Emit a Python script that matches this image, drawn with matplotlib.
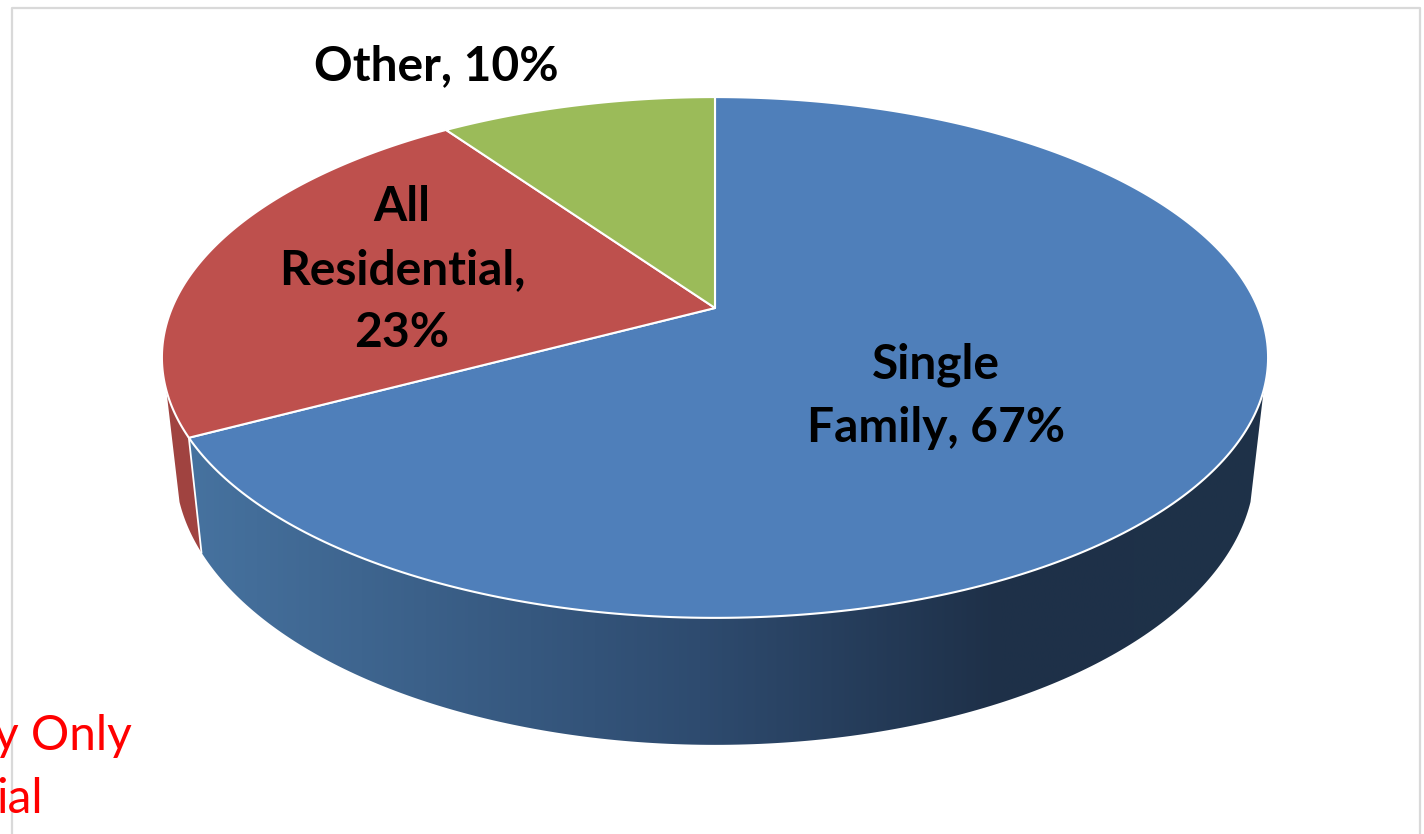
"""Single Family / All Residential / Other shares as a tilted 3D-looking pie."""
import numpy as np
import matplotlib
matplotlib.use("Agg")
import matplotlib.pyplot as plt
from matplotlib.colors import LinearSegmentedColormap
from matplotlib.patches import Polygon

categories = ["Single\nFamily", "All\nResidential", "Other"]
shares = [67.2, 23.1, 9.7]   # labels show them rounded
colors = ["#4f7fba", "#be504d", "#9bbb59"]

W, H = 1424, 834
K = 0.19                     # perspective strength
TOP = (543, 251, 308)        # x radius, y radius, y of the pie centre
BOTTOM = (530, 268, 414)
CX = 715
VISIBLE = (108, 252)         # part of the rim seen from the front, degrees clockwise from 12


def rim(theta, disc):
    a, b, y0 = disc
    t = np.radians(theta)
    u, v = np.sin(t), np.cos(t)
    return np.column_stack([CX + a * u / (1 + K * v), y0 - b * v / (1 + K * v)])


def side(start, stop):
    th = np.linspace(start, stop, 200)
    return np.vstack([rim(th, TOP), rim(th[::-1], BOTTOM)])


edges = np.concatenate([[0], np.cumsum(shares)]) / sum(shares) * 360

fig = plt.figure(figsize=(W / 100, H / 100), dpi=100)
ax = fig.add_axes([0, 0, 1, 1])
ax.set_xlim(0, W)
ax.set_ylim(H, 0)
ax.axis("off")

# frame
ax.plot([11.5, 11.5, 1419.5, 1419.5], [834, 8, 8, 833], color="#d9d9d9", lw=1.6, zorder=1)

# side wall: blue part has a left-to-right shading, the red sliver is flat
blue_side = Polygon(side(max(edges[0], VISIBLE[0]), edges[1]), closed=True, fc="none", ec="none", zorder=2)
ax.add_patch(blue_side)
shade = LinearSegmentedColormap.from_list(
    "shade", [(0, "#46729f"), (0.472, "#2e4b6f"), (0.75, "#1e3048"), (1, "#1e3249")])
img = ax.imshow(np.linspace(0, 1, 512)[None, :], extent=(190, 1270, 750, 380), cmap=shade,
                aspect="auto", zorder=2, interpolation="bilinear")
img.set_clip_path(blue_side)
ax.add_patch(Polygon(side(edges[1], VISIBLE[1]), closed=True, fc="#a04340", ec="none", zorder=2))
seam = np.vstack([rim(edges[1:2], TOP), rim(edges[1:2], BOTTOM)])
ax.plot(seam[:, 0], seam[:, 1], color="white", lw=1.3, zorder=3)

# top face
for i, color in enumerate(colors):
    th = np.linspace(edges[i], edges[i + 1], 300)
    pts = np.vstack([rim(th, TOP), [[CX, TOP[2]]]])
    ax.add_patch(Polygon(pts, closed=True, fc=color, ec="white", lw=1.5, joinstyle="round", zorder=4))

# labels
label_pos = [(936, 396), (402, 270), (436, 66)]
for cat, val, (x, y) in zip(categories, shares, label_pos):
    ax.text(x, y, f"{cat}, {val:.0f}%".replace("Residential, ", "Residential,\n"),
            ha="center", va="center", fontsize=34.5, fontweight="bold", family="Lato",
            color="black", linespacing=1.52, zorder=5)

# note cut off at the left edge of the picture
ax.text(132, 750, "y Only", ha="right", va="baseline", fontsize=34.5, family="Lato", color="#ff0000", zorder=5)
ax.text(43, 813, "ial", ha="right", va="baseline", fontsize=34.5, family="Lato", color="#ff0000", zorder=5)

ax.set_xlim(0, W)
ax.set_ylim(H, 0)
fig.savefig("out.png", dpi=100)
